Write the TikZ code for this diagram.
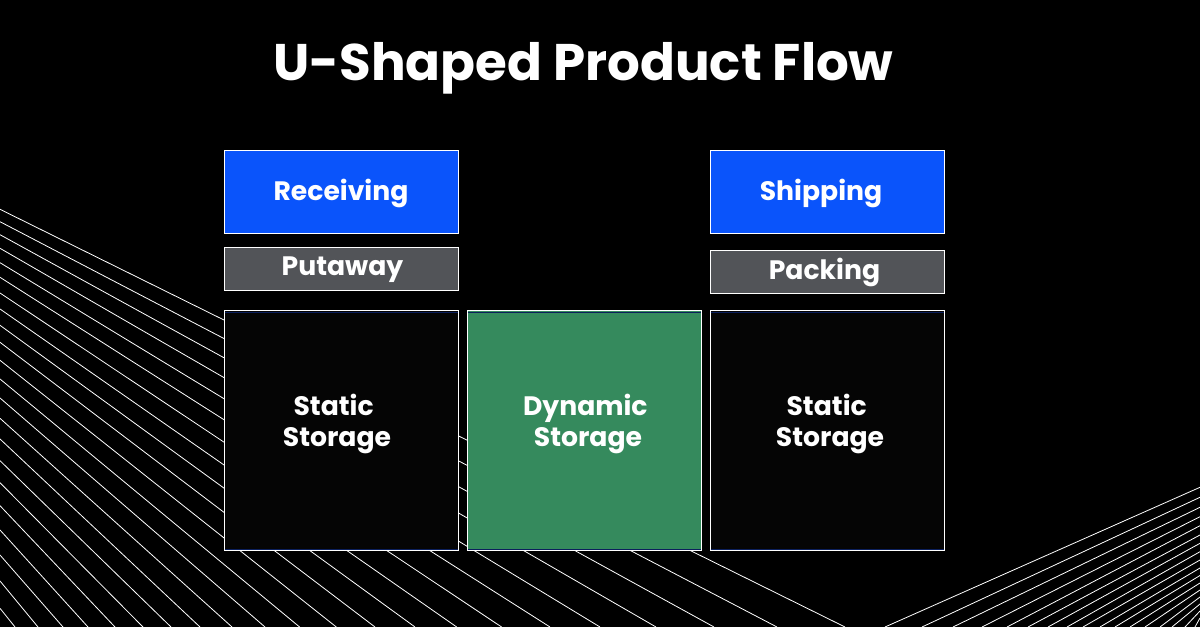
\documentclass[tikz,border=0pt]{standalone}
\usepackage{fontspec}
\setmainfont{Poppins}
\definecolor{bluebox}{HTML}{0A54FB}
\definecolor{graybox}{HTML}{525458}
\definecolor{greenbox}{HTML}{358A5D}
\definecolor{darkbox}{HTML}{050505}
\definecolor{navyline}{HTML}{0B1F5C}
\tikzset{
  fanline/.style={draw=white,line width=0.6pt},
  boxbase/.style={draw=white,line width=0.7pt,minimum width=175.5pt,inner sep=0pt,anchor=north west},
  tallbox/.style={boxbase,minimum height=179.6pt},
  topbox/.style={boxbase,fill=bluebox,minimum height=62.1pt},
  midbox/.style={boxbase,fill=graybox,minimum height=32.1pt},
  boxtext/.style={text=white,font=\fontsize{20pt}{23.25pt}\selectfont\bfseries,align=center,inner sep=0pt},
  titletext/.style={text=white,font=\fontsize{38.6pt}{44pt}\selectfont\bfseries,inner sep=0pt},
  navy/.style={draw=navyline,line width=0.6pt}
}
\begin{document}
\begin{tikzpicture}[x=0.75pt,y=-0.75pt]
\useasboundingbox (0,0) rectangle (1200,627);
\fill[black] (0,0) rectangle (1200,627);
% left fan: y at x=0 / x at y=627
\foreach \a/\b in {209.3/845,221.7/777,234.7/714,248.3/656,262.7/600,277.3/550,293/501.6,309/456.7,325.3/415,342.3/375,360.3/336.3,379/299.6,398/265,418.3/232,439/200,460.7/171,482.7/143,505.7/115,530/88,555/63,581/38,608.3/15}
  \draw[fanline] (0,\a) -- (\b,627);
% right fan: x at y=627 / y at x=1200
\foreach \a/\b in {885/487.3,922/497.3,953/507.3,982/516.7,1007/525.7,1028/535,1048/543.3,1067/551.7,1083/560,1100/568,1115/575.5,1130/583,1145/590,1160/597,1172/604,1185/611,1195/618}
  \draw[fanline] (\a,627) -- (1200,\b);
% boxes
\node[topbox] (receiving) at (223.7,150.5) {};
\node[midbox] (putaway) at (223.7,247.5) {};
\node[tallbox,fill=darkbox] (staticL) at (223.7,310.5) {};
\node[tallbox,fill=greenbox] (dynamic) at (466.7,310.5) {};
\node[topbox] (shipping) at (709.7,150.5) {};
\node[midbox] (packing) at (709.7,250.5) {};
\node[tallbox,fill=darkbox] (staticR) at (709.7,310.5) {};
% navy inner lines
\foreach \n in {staticL,dynamic,staticR}{
  \draw[navy] ([xshift=0.6pt,yshift=-1.2pt]\n.north west) -- ([xshift=-0.6pt,yshift=-1.2pt]\n.north east);
  \draw[navy] ([xshift=0.6pt,yshift=1.2pt]\n.south west) -- ([xshift=-0.6pt,yshift=1.2pt]\n.south east);
}
% texts
\node[titletext] (title) at (583.5,68) {U-Shaped Product Flow};
\node[boxtext] (treceiving) at (341,193) {Receiving};
\node[boxtext] (tputaway) at (342.5,270) {Putaway};
\node[boxtext] (tshipping) at (821,193) {Shipping};
\node[boxtext] (tpacking) at (824.5,272) {Packing};
\node[boxtext] (tstaticL) at (337,424) {Static\hspace*{5pt}\\Storage};
\node[boxtext] (tdynamic) at (588,424) {Dynamic\hspace*{4pt}\\Storage};
\node[boxtext] (tstaticR) at (830,424) {Static\hspace*{5pt}\\Storage};
\end{tikzpicture}
\end{document}
